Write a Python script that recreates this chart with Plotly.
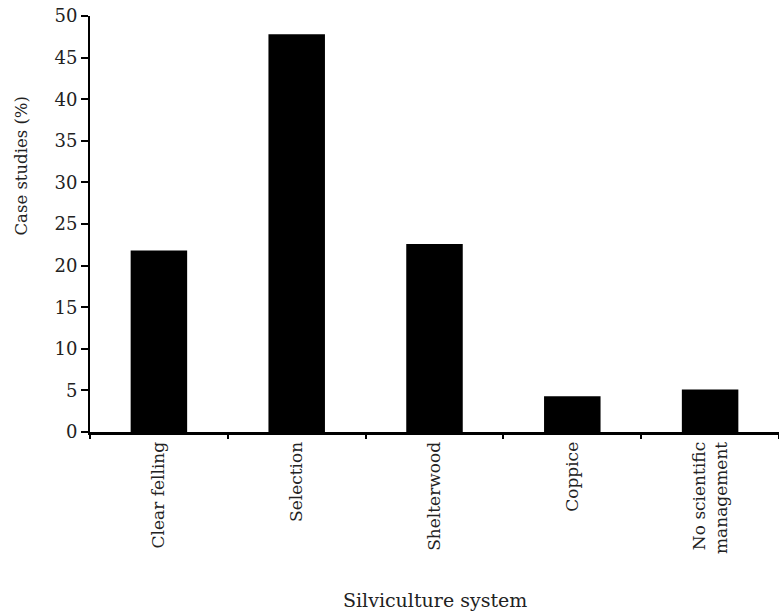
import plotly.graph_objects as go

categories = ["Clear felling", "Selection", "Shelterwood", "Coppice", "No scientific<br>management"]
values = [21.8, 47.8, 22.6, 4.3, 5.1]
y_ticks = [0, 5, 10, 15, 20, 25, 30, 35, 40, 45, 50]

FONT = "DejaVu Serif"

fig = go.Figure()
fig.add_trace(go.Bar(
    x=categories, y=values,
    marker=dict(color="black", line=dict(width=0)),
    width=0.41,
))

fig.update_layout(
    width=779, height=616,
    margin=dict(l=90, r=0, t=16, b=184, autoexpand=False),
    plot_bgcolor="white", paper_bgcolor="white",
    showlegend=False,
    font=dict(family=FONT, color="#222", size=17),
)
fig.update_xaxes(
    automargin=False,
    showline=True, linecolor="black", linewidth=3,
    ticks="outside", tickson="boundaries", ticklen=4, tickwidth=2, tickcolor="black",
    tickangle=-90, tickfont=dict(family=FONT, size=17, color="#222"),
    showgrid=False, zeroline=False,
    range=[-0.5, 4.5],
)
fig.update_yaxes(
    automargin=False,
    range=[0, 50], tickvals=y_ticks,
    showline=True, linecolor="black", linewidth=2,
    ticks="outside", ticklen=7, tickwidth=2, tickcolor="black",
    tickfont=dict(family=FONT, size=18, color="#222"),
    showgrid=False, zeroline=False,
)
fig.add_annotation(
    text="Case studies (%)", textangle=-90,
    xref="paper", yref="paper", x=-0.099, y=0.64,
    xanchor="center", yanchor="middle", showarrow=False,
    font=dict(family=FONT, size=16.5, color="#222"),
)
fig.add_annotation(
    text="Silviculture system",
    xref="paper", yref="paper", x=0.5, y=-0.404,
    xanchor="center", yanchor="middle", showarrow=False,
    font=dict(family=FONT, size=19, color="#222"),
)

# remove the default 8px page margin so the figure sits at the window's corner
fig.write_html(
    "out.html",
    config={"displayModeBar": False},
    post_script="document.body.style.margin='0';",
)
